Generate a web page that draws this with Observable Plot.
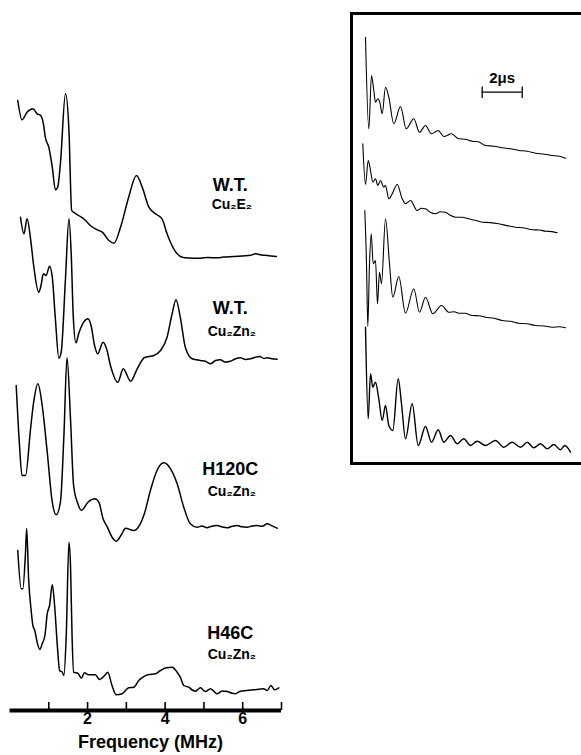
<!DOCTYPE html>
<html>
<head>
<meta charset="utf-8">
<script src="https://cdn.jsdelivr.net/npm/d3@7"></script>
<script src="https://cdn.jsdelivr.net/npm/@observablehq/plot@0.6"></script>
<style>
  html, body { margin: 0; padding: 0; background: #fff; overflow: hidden; }
  #wrap { position: relative; width: 581px; height: 755px; overflow: hidden; }
  #wrap svg { position: absolute; }
</style>
</head>
<body>
<div id="wrap"></div>
<script>
// ---------- DATA ----------
// Sample labels
const sampleNames = ["W.T.", "W.T.", "H120C", "H46C"];
const sampleForms = ["Cu₂E₂", "Cu₂Zn₂", "Cu₂Zn₂", "Cu₂Zn₂"];

// Frequency-domain ESEEM spectra: [frequency (MHz), intensity (arb.)]
const spectrumWTCuE = [[0.20,156],[0.31,136.7],[0.44,144.3],[0.59,147.7],[0.70,142.7],[0.79,141],[0.86,133],[0.91,119.3],[1.00,109.3],[1.09,89.3],[1.17,66.7],[1.23,69.3],[1.30,93],[1.43,162.7],[1.52,126],[1.59,46],[1.64,44.3],[1.77,41],[1.95,36],[2.07,31],[2.25,26.7],[2.38,24.3],[2.55,16],[2.68,13.3],[2.85,29.3],[3.06,59.3],[3.26,81],[3.41,69.3],[3.58,49.3],[3.79,41.7],[3.92,37.7],[4.05,22.7],[4.22,7.7],[4.44,-0.7],[4.6,-1.5],[4.91,-1.7],[5.1,-1],[5.34,-1.3],[5.5,-0.6],[5.77,0],[6.0,0.6],[6.2,1.2],[6.33,2.7],[6.5,1.4],[6.63,1],[6.87,0]];
const spectrumWTCuZn = [[0.27,141.8],[0.36,125.2],[0.44,140.2],[0.53,120.2],[0.61,93.5],[0.74,66.8],[0.80,73.5],[0.86,85.2],[0.93,83.5],[1.02,92.8],[1.09,81.8],[1.17,40.2],[1.26,0.8],[1.32,6.8],[1.43,80.2],[1.52,140.2],[1.58,103.5],[1.63,43.5],[1.70,16.2],[1.77,25.2],[1.90,36.8],[2.01,40.2],[2.09,33.5],[2.18,13.5],[2.26,5.2],[2.40,16.8],[2.49,10.2],[2.59,-6.5],[2.78,-23.2],[2.92,-9.8],[3.11,-22.2],[3.28,-9.8],[3.47,1.5],[3.71,3.5],[3.88,8.5],[4.05,21.8],[4.18,45.2],[4.28,59.2],[4.39,41.8],[4.52,11.8],[4.70,0.2],[4.91,-1.5],[5.05,-2.5],[5.17,-4.8],[5.30,-1.5],[5.42,-0.8],[5.55,-3],[5.68,-2.2],[5.80,0],[5.94,1.2],[6.07,-0.5],[6.20,0.2],[6.33,1.8],[6.44,2.5],[6.55,0.5],[6.63,1.2],[6.75,0.2],[6.89,-0.2]];
const spectrumH120C = [[0.16,141],[0.24,84.3],[0.31,51],[0.40,51],[0.53,97.7],[0.61,124.3],[0.72,142.7],[0.83,121],[0.96,74.3],[1.09,24.3],[1.19,11.7],[1.30,24.3],[1.39,91],[1.47,168.7],[1.56,107.7],[1.64,41],[1.75,22.7],[1.84,16],[2.01,24.3],[2.19,27.7],[2.29,24.3],[2.40,7.7],[2.51,-0.7],[2.63,-10.7],[2.74,-14.7],[2.87,-8.3],[2.98,-1.7],[3.19,-4],[3.47,13.5],[3.62,36],[3.79,56],[3.96,63.7],[4.14,57.7],[4.31,42.7],[4.48,19.3],[4.65,2.7],[4.82,-0.7],[4.95,0.5],[5.08,-1.3],[5.20,0.3],[5.34,1],[5.47,-0.5],[5.60,-1.3],[5.73,0.2],[5.86,1],[5.98,-0.3],[6.11,-0.7],[6.24,0.4],[6.37,1],[6.50,0.2],[6.63,2.7],[6.76,0.6],[6.89,-1.7]];
const spectrumH46C = [[0.20,139],[0.29,100.7],[0.33,100.7],[0.40,137.3],[0.43,161],[0.48,110.7],[0.55,77.3],[0.59,64],[0.64,59],[0.70,47.3],[0.77,40],[0.83,45.7],[0.90,54],[0.96,75.7],[1.02,84],[1.09,104.7],[1.15,84],[1.22,44],[1.28,19],[1.35,17.3],[1.39,14],[1.45,54],[1.52,147.3],[1.56,124],[1.60,54],[1.64,17.3],[1.75,16.3],[1.84,11.3],[1.92,16.7],[2.03,14.7],[2.20,14.7],[2.31,10],[2.44,14],[2.52,17.3],[2.63,4],[2.74,-5.3],[2.89,-4.3],[3.06,1.7],[3.19,2.3],[3.32,9],[3.47,13.3],[3.58,15],[3.75,15.7],[3.88,19],[4.03,21.7],[4.18,22.3],[4.31,17.3],[4.39,12.3],[4.48,4],[4.61,2.3],[4.70,-0.5],[4.78,-1.7],[4.91,1.7],[5.04,-2],[5.17,0.7],[5.25,-1.5],[5.34,-4.3],[5.47,-1.5],[5.60,-2],[5.70,-3.5],[5.81,-4.3],[5.94,-1.7],[6.10,-1],[6.28,-0.3],[6.54,0.7],[6.63,-1],[6.73,4],[6.82,-0.3],[6.93,1.7]];

// Time-domain echo envelopes (inset): [time (µs), amplitude (arb.)]
const echoWTCuE = [[0.165,121],[0.33,29.4],[0.465,82.7],[0.58,67.7],[0.665,56],[0.78,59.4],[0.88,56],[1.0,44.4],[1.165,71],[1.33,61],[1.58,34.4],[1.915,51.7],[2.2,29.4],[2.58,39.4],[2.865,26],[3.165,32.7],[3.465,24.4],[3.8,27.7],[4.08,21.7],[4.465,24.4],[4.83,19.4],[5.15,19],[5.5,17],[5.8,16.5],[6.165,12.7],[6.6,12],[7.0,10.4],[7.4,9.5],[7.83,7.7],[8.25,7],[8.665,5],[9.1,4],[9.5,2.7],[9.8,2.2],[10.165,0]];
const echoWTCuZn = [[0.03,89],[0.165,48.3],[0.3,72.3],[0.415,62.3],[0.53,50.6],[0.665,54],[0.78,47.3],[0.915,52.3],[1.08,45.6],[1.165,47.3],[1.33,34],[1.5,39],[1.75,48.3],[2.0,34],[2.165,29],[2.415,32.3],[2.75,22.3],[2.95,24.5],[3.165,24],[3.4,20.5],[3.665,19],[3.9,21],[4.165,20.6],[4.4,17.5],[4.665,15.6],[5.0,15.5],[5.33,14],[5.65,12.5],[6.0,10.6],[6.4,10.2],[6.83,9],[7.25,7.2],[7.665,5.6],[8.1,4.8],[8.5,3],[8.85,2.8],[9.165,1.6],[9.5,1.2],[9.75,0]];
const echoH120C = [[0.13,117.3],[0.215,64],[0.28,1.3],[0.365,64],[0.45,94],[0.55,64],[0.665,67.3],[0.765,24],[0.865,55.6],[0.965,44],[1.165,109],[1.365,64],[1.53,30.6],[1.83,51.3],[2.165,14.6],[2.58,39],[2.865,15.6],[3.165,30.6],[3.53,14],[3.965,22.3],[4.33,15.6],[4.6,16],[4.83,14.6],[5.15,14.5],[5.5,12.3],[5.85,12],[6.165,10.6],[6.6,9.5],[7.0,7.3],[7.4,6.5],[7.83,4.6],[8.25,4],[8.665,2.3],[9.1,1.8],[9.5,0.6],[9.85,1],[10.165,0]];
const echoH46C = [[0.165,124.3],[0.3,32.7],[0.415,77.7],[0.53,64.3],[0.665,69.3],[0.83,52.7],[1.0,31],[1.165,46],[1.33,26],[1.53,21],[1.8,72.7],[1.965,47.7],[2.165,12.7],[2.5,47.7],[2.8,6],[3.165,25],[3.465,9.3],[3.8,21.7],[4.08,9.3],[4.415,16],[4.75,7.7],[5.08,12.7],[5.415,6],[5.75,10.3],[6.165,6],[6.665,11],[7.08,4.3],[7.5,9.3],[7.915,4.3],[8.25,9.3],[8.58,3.7],[8.915,7.7],[9.25,2.7],[9.58,7],[9.915,1.7],[10.13,6],[10.415,-0.7]];

// Axis ticks and labels
const freqTicks = [1, 2, 3, 4, 5, 6, 7];
const freqTickLabels = [2, 4, 6];
const freqAxisTitle = "Frequency (MHz)";
const scaleBar = { start: 6, length: 2, unit: "μs" };

// ---------- DRAWING ----------
const FONT = "'Liberation Sans', Arial, Helvetica, sans-serif";
const spectra = [spectrumWTCuE, spectrumWTCuZn, spectrumH120C, spectrumH46C];
const echoes = [echoWTCuE, echoWTCuZn, echoH120C, echoH46C];

// vertical stacking (layout)
const specOffset = [499, 396.5, 229, 66];
const labelLift = [66, 45.5, 52, 51];
const labelGap = [18, 22, 21, 20];
const echoOffset = [322.3, 247.7, 152.7, 29];
const echoWidth = [1.1, 1.1, 1.1, 1.4];

const specRows = spectra.flatMap((s, i) => s.map(([f, h]) => ({ f, v: specOffset[i] + h, id: i })));
const echoRows = echoes.flatMap((s, i) => s.map(([t, a]) => ({ t, v: echoOffset[i] + a, id: i, w: echoWidth[i] })));
const labels = sampleNames.map((name, i) => ({
  name, form: sampleForms[i],
  v: specOffset[i] + labelLift[i],
  v2: specOffset[i] + labelLift[i] - labelGap[i]
}));

const AXIS = 45; // axis line level in y units of the left panel
const left = Plot.plot({
  width: 290, height: 755,
  marginLeft: 0, marginRight: 0, marginTop: 0, marginBottom: 0,
  x: { domain: [0, 7], range: [9.5, 281], axis: null },
  y: { domain: [0, 755], range: [755, 0], axis: null },
  style: { fontFamily: FONT, background: "transparent", overflow: "visible" },
  marks: [
    Plot.line(specRows, { x: "f", y: "v", z: "id", stroke: "black", strokeWidth: 1.5, curve: "monotone-x" }),
    Plot.ruleY([AXIS], { x1: 0, x2: 7, stroke: "black", strokeWidth: 4 }),
    Plot.ruleX(freqTicks, { x: d => d, y1: AXIS, y2: AXIS + 8, stroke: "black", strokeWidth: 1.6 }),
    Plot.text(freqTickLabels, { x: d => d, y: AXIS, dy: 13, text: d => String(d), lineAnchor: "bottom", fontSize: 16, fontWeight: "bold", fill: "black" }),
    Plot.text([freqAxisTitle], { x: 3.62, y: AXIS, dy: 37, text: d => d, lineAnchor: "bottom", fontSize: 18, fontWeight: "bold", fill: "black", ariaLabel: "axis-title" }),
    Plot.text(labels, { x: 5.68, y: "v", text: "name", lineAnchor: "bottom", fontSize: 18, fontWeight: "bold", fill: "black", ariaLabel: "sample-name" }),
    Plot.text(labels, { x: 5.72, y: "v2", text: "form", lineAnchor: "bottom", fontSize: 14, fontWeight: "bold", fill: "black", ariaLabel: "sample-form" })
  ]
});

const inset = Plot.plot({
  width: 260, height: 480,
  marginLeft: 11, marginRight: 10, marginTop: 13, marginBottom: 17,
  x: { domain: [0, 10], range: [21.7, 221.7], axis: null },
  y: { domain: [0, 480], range: [480, 0], axis: null },
  style: { fontFamily: FONT, background: "transparent", overflow: "visible" },
  marks: [
    Plot.frame({ stroke: "black", strokeWidth: 3 }),
    ...[0, 1, 2, 3].map(i => Plot.line(echoRows.filter(r => r.id === i), { x: "t", y: "v", stroke: "black", strokeWidth: echoWidth[i], curve: "monotone-x" })),
    Plot.ruleY([scaleBar], { x1: d => d.start, x2: d => d.start + d.length, y: 388.3, stroke: "black", strokeWidth: 1.3 }),
    Plot.ruleX([scaleBar.start, scaleBar.start + scaleBar.length], { x: d => d, y1: 382, y2: 393.5, stroke: "black", strokeWidth: 1.3 }),
    Plot.text([scaleBar], { x: d => d.start + d.length / 2, y: 388.3, dy: -9, text: d => `${d.length}${d.unit}`, lineAnchor: "bottom", fontSize: 15, fontWeight: "bold", fill: "black" })
  ]
});

// post-process: letter-spacing and subscripts
function subscriptify(el) {
  const s = el.textContent;
  if (!s.includes("₂")) return;
  el.textContent = "";
  const parts = s.split(/(₂)/).filter(p => p);
  let lowered = false;
  for (const p of parts) {
    const t = document.createElementNS("http://www.w3.org/2000/svg", "tspan");
    if (p === "₂") {
      t.textContent = "2";
      t.setAttribute("font-size", "10");
      if (!lowered) t.setAttribute("dy", "3");
      lowered = true;
    } else {
      t.textContent = p;
      if (lowered) t.setAttribute("dy", "-3");
      lowered = false;
    }
    el.appendChild(t);
  }
}
const L = d3.select(left);
L.selectAll('g[aria-label="axis-title"] text').style("letter-spacing", "2px");
L.selectAll('g[aria-label="sample-name"] text').style("letter-spacing", "0.8px");
L.selectAll('g[aria-label="sample-form"] text').each(function () {
  this.style.letterSpacing = "0.8px";
  subscriptify(this);
});

left.style.left = "0px"; left.style.top = "0px";
inset.style.left = "340px"; inset.style.top = "0px";
document.getElementById("wrap").append(left, inset);
</script>
</body>
</html>
